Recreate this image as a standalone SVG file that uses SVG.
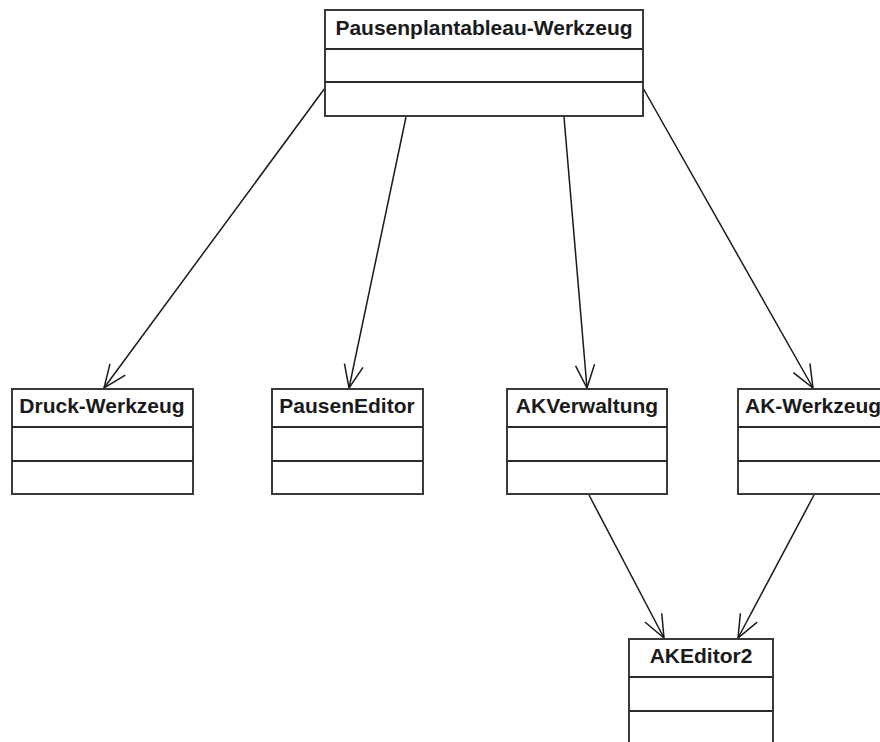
<svg xmlns="http://www.w3.org/2000/svg" width="880" height="742" viewBox="0 0 880 742">
  <style>
    .box { fill: #ffffff; stroke: #3a3a3a; stroke-width: 2; }
    .sep { stroke: #2a2a2a; stroke-width: 2; }
    .name { font-family: "Liberation Sans", Arial, sans-serif; font-weight: bold; font-size: 21px; fill: #1a1a1a; }
    .edge { stroke: #1a1a1a; stroke-width: 1.5; fill: none; marker-end: url(#open); }
  </style>
  <defs>
    <marker id="open" markerUnits="userSpaceOnUse" markerWidth="30" markerHeight="30" viewBox="-26 -13 30 26" refX="0" refY="0" orient="auto">
      <path d="M -23,-9.5 L 0,0 L -23,9.5" fill="none" stroke="#1a1a1a" stroke-width="1.5"/>
    </marker>
  </defs>
  <rect width="880" height="742" fill="#ffffff"/>

  <g id="edges">
    <line class="edge" x1="325" y1="88" x2="104" y2="388"/>
    <line class="edge" x1="406" y1="117" x2="349" y2="388"/>
    <line class="edge" x1="564" y1="117" x2="587" y2="388"/>
    <line class="edge" x1="643" y1="88" x2="813" y2="388"/>
    <line class="edge" x1="589" y1="495" x2="664" y2="638"/>
    <line class="edge" x1="814" y1="495" x2="738" y2="638"/>
  </g>

  <g id="pausenplantableau-werkzeug">
    <rect class="box" x="325" y="10" width="318" height="106"/>
    <line class="sep" x1="325" y1="49" x2="643" y2="49"/>
    <line class="sep" x1="325" y1="82" x2="643" y2="82"/>
    <text class="name" x="484" y="35" text-anchor="middle">Pausenplantableau-Werkzeug</text>
  </g>

  <g id="druck-werkzeug">
    <rect class="box" x="12" y="389" width="181" height="105"/>
    <line class="sep" x1="12" y1="427" x2="193" y2="427"/>
    <line class="sep" x1="12" y1="461" x2="193" y2="461"/>
    <text class="name" x="102" y="413" text-anchor="middle">Druck-Werkzeug</text>
  </g>

  <g id="pauseneditor">
    <rect class="box" x="272" y="389" width="151" height="105"/>
    <line class="sep" x1="272" y1="427" x2="423" y2="427"/>
    <line class="sep" x1="272" y1="461" x2="423" y2="461"/>
    <text class="name" x="347" y="413" text-anchor="middle">PausenEditor</text>
  </g>

  <g id="akverwaltung">
    <rect class="box" x="507" y="389" width="160" height="105"/>
    <line class="sep" x1="507" y1="427" x2="667" y2="427"/>
    <line class="sep" x1="507" y1="461" x2="667" y2="461"/>
    <text class="name" x="587" y="413" text-anchor="middle">AKVerwaltung</text>
  </g>

  <g id="ak-werkzeug">
    <rect class="box" x="738" y="389" width="156" height="105"/>
    <line class="sep" x1="738" y1="427" x2="894" y2="427"/>
    <line class="sep" x1="738" y1="461" x2="894" y2="461"/>
    <text class="name" x="745" y="413">AK-Werkzeug</text>
  </g>

  <g id="akeditor2">
    <rect class="box" x="629" y="639" width="144" height="120"/>
    <line class="sep" x1="629" y1="677" x2="773" y2="677"/>
    <line class="sep" x1="629" y1="711" x2="773" y2="711"/>
    <text class="name" x="701" y="663" text-anchor="middle">AKEditor2</text>
  </g>
</svg>
